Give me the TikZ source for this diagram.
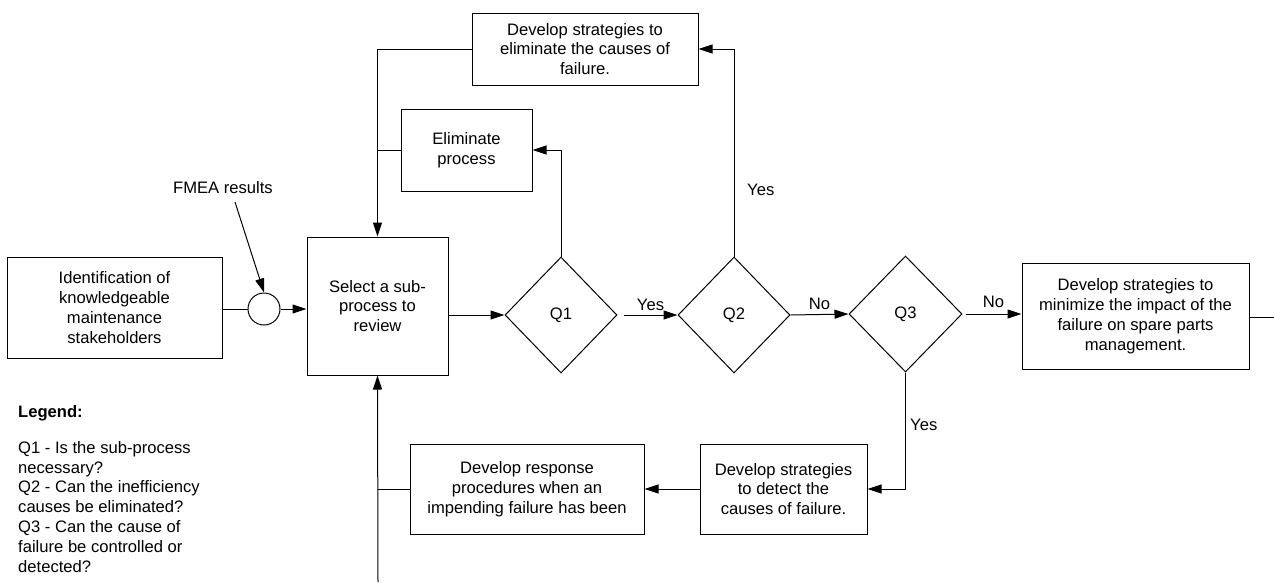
\documentclass[tikz,border=0pt]{standalone}
\usepackage{fontspec}
\setmainfont{Liberation Sans}
\usetikzlibrary{arrows.meta,shapes.geometric}

\tikzset{
  txt/.style={font=\fontsize{16.6}{19.8}\selectfont},
  procbox/.style={txt, draw, line width=1pt, align=center, inner sep=2pt},
  decision/.style={txt, draw, line width=1pt, diamond, inner sep=0pt},
  link/.style={line width=1pt},
  arr/.style={link, -{Triangle[length=14pt,width=9pt]}},
  lbl/.style={txt, inner sep=0pt}
}

\begin{document}
\begin{tikzpicture}[x=1pt,y=-1pt]
  \useasboundingbox (0,0) rectangle (1274,582);

  % process boxes
  \node[procbox, minimum width=215pt, minimum height=101pt] (ident) at (114.5,307.5)
    {Identification of\\knowledgeable\\maintenance\\stakeholders};
  \node[draw, line width=1pt, circle, minimum size=32pt, inner sep=0pt] (circ) at (264,309) {};
  \node[procbox, minimum width=141pt, minimum height=138pt] (select) at (377.5,306)
    {Select a sub-\\process to\\review};
  \node[procbox, minimum width=226pt, minimum height=72pt] (elimstrat) at (585,49)
    {Develop strategies to\\eliminate the causes of\\failure.};
  \node[procbox, minimum width=131pt, minimum height=82pt] (elim) at (466.5,150)
    {Eliminate\\process};
  \node[procbox, minimum width=227pt, minimum height=106pt] (impact) at (1135.5,316)
    {Develop strategies to\\minimize the impact of the\\failure on spare parts\\management.};
  \node[procbox, minimum width=167pt, minimum height=90pt] (detect) at (783.5,489)
    {Develop strategies\\to detect the\\causes of failure.};
  \node[procbox, minimum width=234pt, minimum height=90pt] (resp) at (527,489)
    {Develop response\\procedures when an\\impending failure has been};

  % decisions
  \node[decision, minimum width=112pt, minimum height=116pt] (q1) at (561,315) {Q1};
  \node[decision, minimum width=112pt, minimum height=116pt] (q2) at (734,315) {Q2};
  \node[decision, minimum width=113pt, minimum height=116pt] (q3) at (905.5,314) {Q3};

  % free ends
  \coordinate (fmeatail) at (235,202);
  \coordinate (loopin) at (378,582);
  \coordinate (outend) at (1274,317);

  % input
  \node[lbl] (fmea) at (223,188) {FMEA results};
  \draw[arr] (fmeatail) -- (circ.north);
  \draw[link] (ident.east |- circ.west) -- (circ.west);
  \draw[arr] (circ.east) -- (circ.east -| select.west);

  % main flow
  \draw[arr] (q1.west -| select.east) -- (q1.west);
  \draw[arr] ([xshift=6pt]q1.east) -- node[lbl, above=4pt] (y1) {Yes} (q2.west);
  \draw[arr] (q2.east) -- node[lbl, above=4pt] (n2) {No} (q3.west);
  \draw[arr] ([xshift=3pt]q3.east) -- node[lbl, above=6pt] (n3) {No} (q3.east -| impact.west);
  \draw[link] (impact.east |- outend) -- (outend);

  % loops back to sub-process selection
  \draw[arr] (q1.north) |- (elim.east);
  \draw[arr] (q2.north) |- (elimstrat.east);
  \node[lbl, anchor=west] (y2) at (747,190) {Yes};
  \draw[arr] (elimstrat.west) -| (select.north);
  \draw[link] (elim.west) -- (elim.west -| select.north);
  \draw[arr] (q3.south) |- (detect.east);
  \node[lbl, anchor=west] (y3) at (910,425) {Yes};
  \draw[arr] (detect.west) -- (resp.east);
  \draw[link] (resp.west) -- (resp.west -| loopin);
  \draw[arr] (loopin) -- (select.south);

  % legend
  \node[lbl, anchor=base west, font=\fontsize{16.6}{19.8}\selectfont\bfseries] (leghead) at (18,417) {Legend:};
  \node[lbl, anchor=north west, align=left] (legbody) at (18,441)
    {Q1 - Is the sub-process\\necessary?\\Q2 - Can the inefficiency\\causes be eliminated?\\Q3 - Can the cause of\\failure be controlled or\\detected?};
\end{tikzpicture}
\end{document}
